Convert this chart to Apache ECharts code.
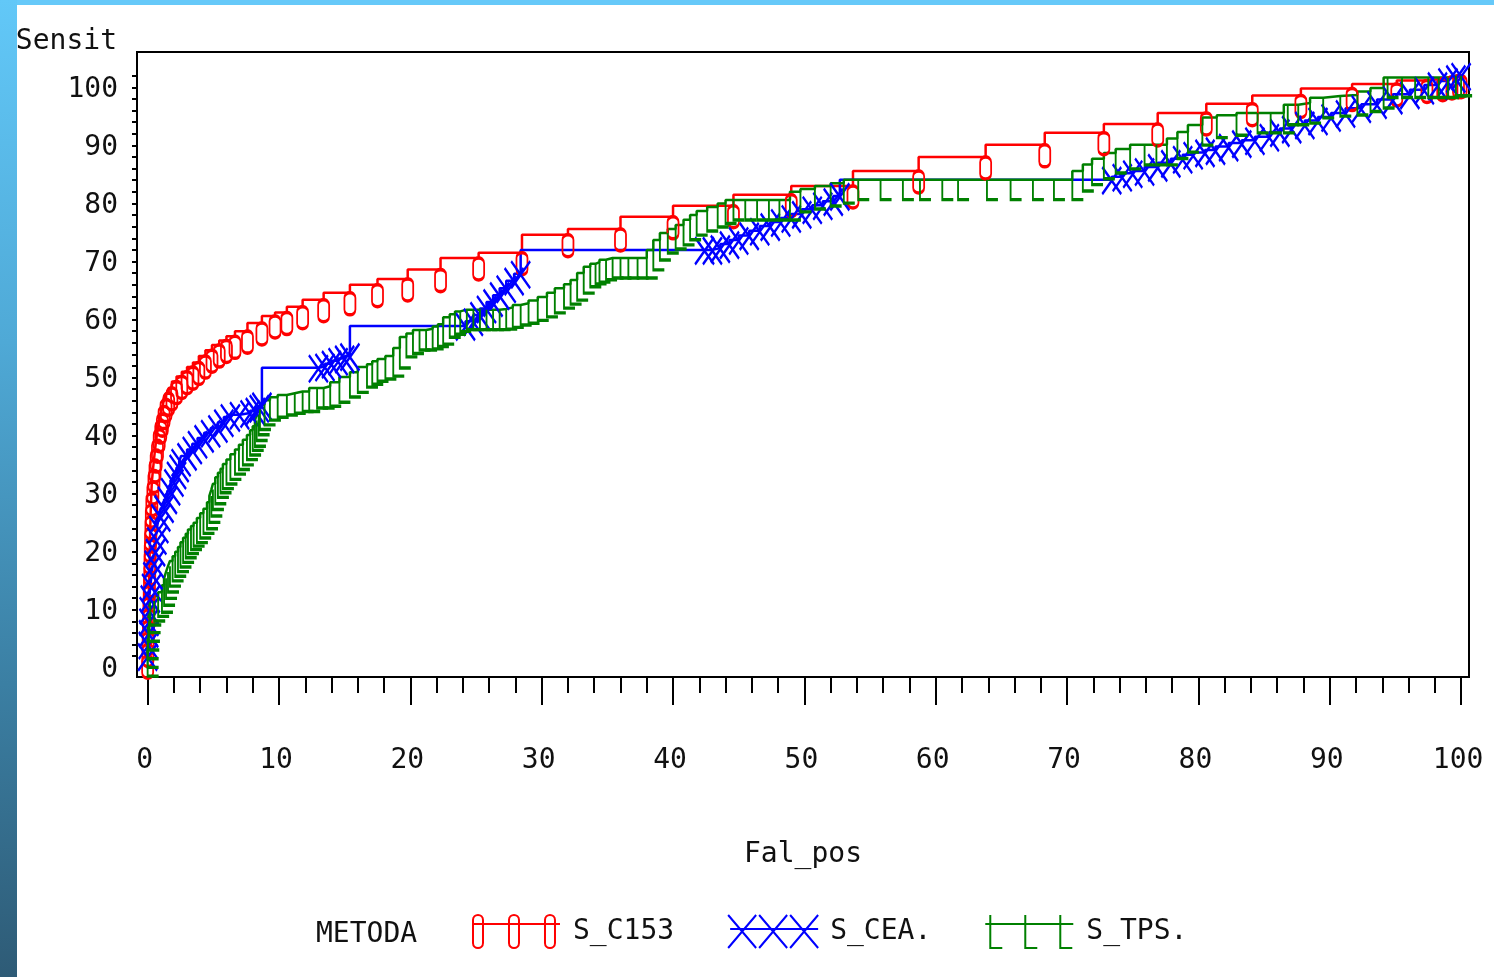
<!DOCTYPE html>
<html>
<head>
<meta charset="utf-8">
<title>Sensit / Fal_pos</title>
<script src="https://cdn.jsdelivr.net/npm/echarts@6/dist/echarts.min.js"></script>
<style>
  html, body { margin: 0; padding: 0; background: #fff; }
  #chart { position: absolute; left: 0; top: 0; width: 1494px; height: 977px; background: #fff; }
  .barTop { position: absolute; left: 0; top: 0; width: 1494px; height: 5px; background: #66c9f9; z-index: 2; }
  .barLeft { position: absolute; left: 0; top: 0; width: 17px; height: 977px; z-index: 3;
    background: linear-gradient(to bottom, #62c8f8 0%, #4fa9d6 35%, #3b7fa3 70%, #2e5b76 100%); }
</style>
</head>
<body>
<div id="chart"></div>
<div class="barTop"></div>
<div class="barLeft"></div>
<script>
// ROC curves, [Fal_pos, Sensit]
var sC153 = [[0,0],[0.02,2],[0.04,4],[0.06,6],[0.08,8],[0.1,10],[0.12,12],[0.14,14],[0.16,16],[0.18,18],[0.2,20],
  [0.22,22],[0.25,24],[0.28,26],[0.32,28],[0.4,30],[0.48,32],[0.56,33.8],[0.65,35.5],[0.75,37.2],[0.88,39],[1.0,40.5],
  [1.12,41.7],[1.25,43],[1.4,44.2],[1.6,45.3],[1.85,46.2],[2.2,47.3],[2.6,48.2],[3.0,49.0],[3.45,49.8],[3.9,50.6],
  [4.4,51.7],[4.9,52.7],[5.45,53.6],[6.0,54.4],[6.65,55.1],[7.6,56.0],[8.7,57.4],[9.7,58.6],[10.6,59.2],[11.8,60.2],
  [13.4,61.4],[15.4,62.6],[17.5,64.0],[19.8,65.0],[22.3,66.6],[25.2,68.6],[28.5,69.5],[32.0,72.6],[36.0,73.6],
  [40.0,75.7],[44.6,77.6],[49.0,79.5],[53.7,81.0],[58.7,83.6],[63.8,86.0],[68.3,88.1],[72.8,90.2],[76.9,91.7],
  [80.6,93.6],[84.1,95.2],[87.8,96.6],[91.7,97.8],[95.1,98.6],[97.4,99.2],[98.6,99.5],[99.3,99.8],[99.8,100],[100,100]];

var sCEA = [[0,0],[0.05,2],[0.08,4],[0.1,6],[0.12,8],[0.2,10],[0.3,12],[0.4,14],[0.5,16],[0.6,18],[0.7,20],
  [0.85,22],[1.0,24],[1.25,25.5],[1.5,27],[1.75,28.5],[2.0,30],[2.2,31.3],[2.4,32.5],[2.55,33.5],[3.0,34.5],
  [3.4,35.6],[3.8,36.6],[4.3,37.6],[4.8,38.5],[5.35,39.3],[5.8,40.3],[6.3,41.2],[7.0,41.6],[7.8,41.9],[8.2,42.3],
  [8.5,42.8],[8.7,43.2],[13.0,49.7],[13.5,49.9],[14.0,50.4],[14.5,50.9],[15.0,51.3],[15.4,51.7],[24.2,56.9],
  [24.8,57.7],[25.3,58.8],[25.8,59.9],[26.3,61.0],[26.8,62.2],[27.3,63.4],[27.9,64.7],[28.4,65.9],[42.4,70.0],
  [43.0,70.0],[43.6,70.3],[44.3,71.0],[45.0,71.7],[45.8,72.5],[46.6,73.3],[47.4,74.1],[48.2,74.8],[49.0,75.5],
  [49.8,76.2],[50.6,77.0],[51.4,77.7],[52.2,78.4],[52.7,79.3],[73.4,82.1],[74.2,82.6],[75.0,83.2],[75.9,83.6],
  [76.9,84.3],[77.9,85.0],[78.8,85.7],[79.6,86.4],[80.5,86.8],[81.3,87.2],[82.3,87.8],[83.3,88.4],[84.3,88.9],
  [85.4,89.5],[86.2,90.3],[87.1,90.9],[88.1,91.6],[89.1,92.3],[90.1,92.9],[91.2,93.6],[92.4,94.4],[93.6,95.1],
  [94.8,95.9],[96.1,96.8],[97.2,97.6],[98.2,98.4],[99.0,99.1],[99.6,99.6],[100,100]];

var sTPS = [[0,0],[0,1.5],[0,3],[0.05,4.5],[0.1,6],[0.15,7.5],[0.2,8.8],[0.5,9.5],[0.8,10.3],[1.09,11],[1.25,12.2],
  [1.4,13.4],[1.55,14.5],[1.7,15.5],[1.9,16.4],[2.1,17.2],[2.31,18],[2.5,18.8],[2.7,19.6],[2.9,20.4],[3.07,21.1],
  [3.3,21.8],[3.5,22.4],[3.75,23],[4.0,23.8],[4.25,24.6],[4.52,25.4],[4.7,26.5],[4.85,27.6],[4.97,28.7],[5.15,29.7],
  [5.35,30.8],[5.55,31.6],[5.73,32.3],[6.0,33.1],[6.3,33.9],[6.65,34.8],[6.95,35.6],[7.25,36.4],[7.56,37.3],
  [7.8,38.1],[8.0,38.9],[8.17,39.6],[8.3,40.6],[8.45,41.6],[8.55,42.5],[8.9,43.3],[9.31,44.1],[9.9,44.6],[10.6,45.0],
  [11.2,45.3],[11.8,45.6],[12.3,45.6],[12.9,46.2],[13.4,46.2],[13.9,46.5],[14.6,47.2],[15.4,48.1],[16.0,48.9],
  [16.7,49.8],[17.1,50.3],[17.5,50.8],[18.1,51.2],[18.7,51.7],[19.2,53.1],[19.7,55.0],[20.2,55.6],[20.7,56.2],
  [21.2,56.2],[21.7,56.4],[22.1,56.8],[22.5,57.2],[23.0,58.4],[23.4,58.9],[23.8,59.4],[24.3,59.7],[24.8,59.7],
  [25.3,59.7],[25.8,59.7],[26.3,59.7],[26.8,59.7],[27.3,59.8],[27.8,60.1],[28.4,60.5],[29.0,60.8],[29.7,61.3],
  [30.4,61.9],[31.0,62.6],[31.7,63.4],[32.2,64.1],[32.7,64.8],[33.2,66.0],[33.7,67.1],[34.1,67.6],[34.4,67.9],
  [34.9,68.3],[35.4,68.6],[36.0,68.6],[36.6,68.6],[37.3,68.6],[38.0,68.6],[38.5,70.0],[39.0,71.7],[39.6,72.9],
  [40.2,73.6],[40.8,74.3],[41.3,75.2],[41.8,76.0],[42.6,76.7],[43.4,77.4],[44.0,78.0],[44.6,78.6],[45.5,78.6],
  [46.4,78.6],[47.3,78.6],[48.1,78.6],[48.9,78.6],[49.7,80.0],[50.8,80.5],[52.0,81.0],[53.0,81.5],[54.1,82.1],
  [55.8,82.1],[57.5,82.1],[58.8,82.1],[60.5,82.1],[61.7,82.1],[63.9,82.1],[65.7,82.1],[67.4,82.1],[69.0,82.1],
  [70.4,82.1],[71.2,83.6],[71.9,84.7],[72.8,85.7],[73.7,86.7],[74.8,87.4],[75.9,88.1],[76.8,88.1],[77.6,88.1],
  [78.4,89.2],[79.2,90.3],[80.3,91.5],[81.4,92.8],[82.9,93.2],[84.5,93.6],[85.5,93.6],[86.5,93.6],[86.8,95.0],
  [87.6,95.0],[88.5,95.3],[89.5,96.2],[90.8,96.5],[92.1,96.7],[93.1,97.3],[94.1,97.9],[94.4,99.7],[95.5,99.7],
  [96.5,99.7],[97.5,99.7],[98.3,99.7],[99.0,99.7],[99.6,100],[100,100]];

var xLabels = [0, 10, 20, 30, 40, 50, 60, 70, 80, 90, 100];
var xMinorTicks = [2, 4, 6, 8, 12, 14, 16, 18, 22, 24, 26, 28, 32, 34, 36, 38, 42, 44, 46, 48,
  52, 54, 56, 58, 62, 64, 66, 68, 72, 74, 76, 78, 82, 84, 86, 88, 92, 94, 96, 98];
var yLabels = [0, 10, 20, 30, 40, 50, 60, 70, 80, 90, 100];
var yTicks = [0, 2, 4, 6, 8, 10, 12, 14, 16, 18, 20, 22, 24, 26, 28, 30, 32, 34, 36, 38, 40, 42, 44, 46, 48,
  50, 52, 54, 56, 58, 60, 62, 64, 66, 68, 70, 72, 74, 76, 78, 80, 82, 84, 86, 88, 90, 92, 94, 96, 98, 100];

var FONT = "'DejaVu Sans Mono', monospace";
var INK = '#111';

// plot symbols
var symC153 = 'path://M0 5C0 -1.67 10 -1.67 10 5L10 16C10 22.67 0 22.67 0 16Z';
var symCEA = 'path://M0 0L18 26M18 0L0 26';
var symTPS = 'path://M0 0L0 20L11 20';

// legend icons: line with three symbols
var icC153 = 'path://M0 9L88 9M1 5C1 -1.67 11 -1.67 11 5L11 28C11 34.67 1 34.67 1 28ZM37 5C37 -1.67 47 -1.67 47 5L47 28C47 34.67 37 34.67 37 28ZM73 5C73 -1.67 83 -1.67 83 5L83 28C83 34.67 73 34.67 73 28Z';
var icCEA = 'path://M2 14L90 14M0 0L28 33M28 0L0 33M31 0L59 33M59 0L31 33M62 0L90 33M90 0L62 33';
var icTPS = 'path://M0 9L88 9M5 0L5 33L17 33M40 0L40 33L52 33M75 0L75 33L87 33';

function stepSeries(name, data, color, symbol, size, offset) {
  return {
    name: name,
    type: 'line',
    step: 'start',
    data: data,
    symbol: symbol,
    symbolSize: size,
    symbolOffset: offset,
    lineStyle: { color: color, width: 2.5 },
    itemStyle: { color: 'rgba(0,0,0,0)', borderColor: color, borderWidth: 2.5 },
    emphasis: { disabled: true },
    clip: true
  };
}

var myChart = echarts.init(document.getElementById('chart'));

var option = {
  animation: false,
  backgroundColor: '#fff',
  title: {
    text: 'METODA',
    left: 316, top: 921, padding: 0,
    textStyle: { fontFamily: FONT, fontSize: 28, fontWeight: 'normal', color: INK }
  },
  legend: {
    left: 471, top: 914,
    itemWidth: 90, itemHeight: 33, itemGap: 53,
    padding: 0,
    textStyle: { fontFamily: FONT, fontSize: 28, color: INK, padding: [0, 0, 0, 7] },
    data: [
      { name: 'S_C153', icon: icC153, itemStyle: { color: 'rgba(0,0,0,0)', borderColor: '#ff0000', borderWidth: 2 } },
      { name: 'S_CEA.', icon: icCEA, itemStyle: { color: 'rgba(0,0,0,0)', borderColor: '#0000ff', borderWidth: 2 } },
      { name: 'S_TPS.', icon: icTPS, itemStyle: { color: 'rgba(0,0,0,0)', borderColor: '#008000', borderWidth: 2 } }
    ],
    selectedMode: false
  },
  grid: [
    { left: 137, top: 52, right: 25, bottom: 300, show: true, borderColor: '#000', borderWidth: 2, backgroundColor: '#fff' },
    { left: 137, top: 52, right: 25, bottom: 300, show: false }
  ],
  xAxis: [
    {
      type: 'value', gridIndex: 0, min: -0.81, max: 100.6,
      name: 'Fal_pos', nameLocation: 'middle', nameGap: 178,
      nameTextStyle: { fontFamily: FONT, fontSize: 28, color: INK, verticalAlign: 'middle' },
      axisLine: { show: true, onZero: false, lineStyle: { color: '#000', width: 2 } },
      axisTick: { show: true, length: 28, customValues: xLabels, lineStyle: { color: '#000', width: 2 } },
      axisLabel: { customValues: xLabels, margin: 84, verticalAlign: 'middle', padding: [0, 6, 0, 0],
        fontFamily: FONT, fontSize: 28, color: INK },
      splitLine: { show: false }
    },
    {
      type: 'value', gridIndex: 1, min: -0.81, max: 100.6,
      axisLine: { show: false, onZero: false },
      axisTick: { show: true, length: 16, customValues: xMinorTicks, lineStyle: { color: '#000', width: 2 } },
      axisLabel: { show: false },
      splitLine: { show: false }
    }
  ],
  yAxis: [
    {
      type: 'value', gridIndex: 0, min: -3.6, max: 104.1,
      name: 'Sensit', nameLocation: 'end', nameGap: 10,
      nameTextStyle: { fontFamily: FONT, fontSize: 28, color: INK, align: 'right', verticalAlign: 'middle', padding: [0, 20, 0, 0] },
      axisLine: { show: true, onZero: false, lineStyle: { color: '#000', width: 2 } },
      axisTick: { show: true, length: 5, customValues: yTicks, lineStyle: { color: '#000', width: 2 } },
      axisLabel: { customValues: yLabels, margin: 19, verticalAlign: 'top', lineHeight: 27,
        fontFamily: FONT, fontSize: 28, color: INK },
      splitLine: { show: false }
    },
    {
      type: 'value', gridIndex: 1, min: -3.6, max: 104.1, show: false,
      axisLine: { onZero: false }
    }
  ],
  series: [
    stepSeries('S_C153', sC153, '#ff0000', symC153, [11, 22], [0, 11]),
    stepSeries('S_CEA.', sCEA, '#0000ff', symCEA, [19, 27], [0, 1]),
    stepSeries('S_TPS.', sTPS, '#008000', symTPS, [11, 20], [5.5, 10])
  ]
};

myChart.setOption(option);
</script>
</body>
</html>
